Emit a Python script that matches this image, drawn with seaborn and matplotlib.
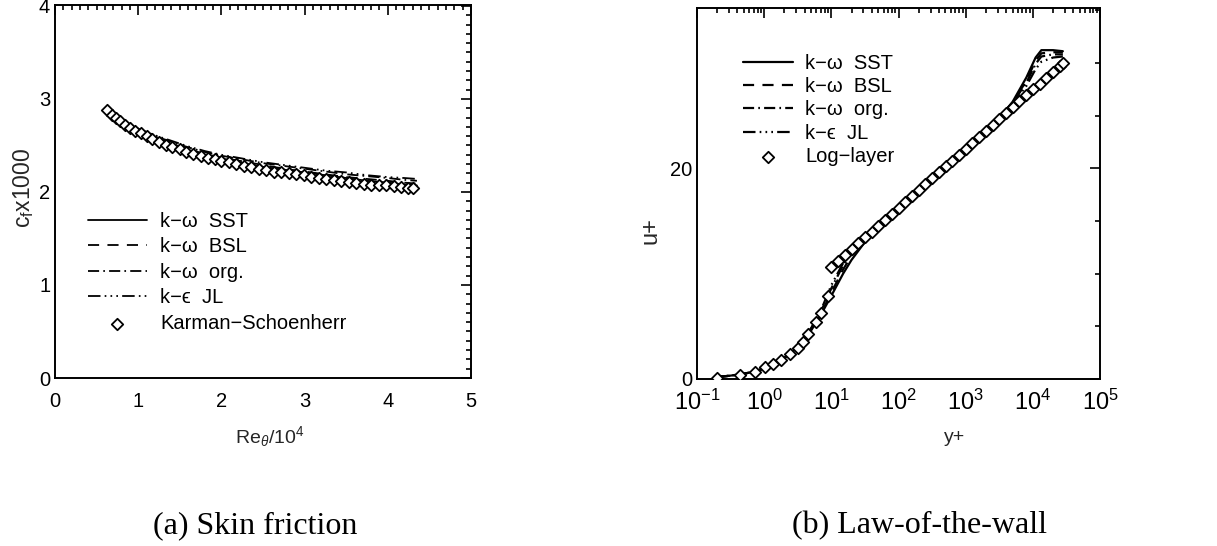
import matplotlib
matplotlib.use("Agg")
import matplotlib.pyplot as plt
import seaborn as sns
from matplotlib.ticker import MultipleLocator, LogLocator, NullFormatter

# ---------------- panel (a): skin friction ----------------
re_ks = [0.63, 0.68, 0.73, 0.78, 0.84, 0.90, 0.96, 1.03, 1.10, 1.17, 1.25, 1.33,
         1.41, 1.50, 1.58, 1.66, 1.75, 1.84, 1.92, 2.00, 2.09, 2.18, 2.27, 2.36,
         2.45, 2.54, 2.63, 2.72, 2.81, 2.90, 2.99, 3.08, 3.17, 3.26, 3.35, 3.44,
         3.53, 3.62, 3.71, 3.80, 3.89, 3.98, 4.07, 4.16, 4.24, 4.30]
cf_ks = [2.88, 2.83, 2.79, 2.76, 2.72, 2.69, 2.66, 2.63, 2.60, 2.57, 2.54, 2.51,
         2.48, 2.46, 2.43, 2.41, 2.39, 2.37, 2.35, 2.33, 2.32, 2.30, 2.28, 2.27,
         2.25, 2.24, 2.22, 2.21, 2.20, 2.19, 2.18, 2.16, 2.15, 2.14, 2.13, 2.12,
         2.11, 2.10, 2.09, 2.08, 2.08, 2.07, 2.06, 2.05, 2.04, 2.04]

re_model = [0.63, 0.70, 0.80, 0.90, 1.00, 1.20, 1.40, 1.60, 1.80, 2.00, 2.25,
            2.50, 2.75, 3.00, 3.25, 3.50, 3.75, 4.00, 4.20, 4.35]
cf_sst = [2.90, 2.83, 2.76, 2.71, 2.66, 2.58, 2.51, 2.45, 2.40, 2.36, 2.31,
          2.27, 2.24, 2.21, 2.18, 2.15, 2.12, 2.10, 2.08, 2.07]
cf_bsl = [2.91, 2.84, 2.77, 2.72, 2.67, 2.59, 2.52, 2.46, 2.41, 2.37, 2.33,
          2.29, 2.25, 2.22, 2.19, 2.16, 2.14, 2.12, 2.10, 2.09]
cf_org = [2.92, 2.85, 2.78, 2.73, 2.68, 2.60, 2.54, 2.48, 2.43, 2.39, 2.35,
          2.31, 2.28, 2.25, 2.22, 2.19, 2.17, 2.15, 2.13, 2.12]
cf_jl = [2.91, 2.85, 2.78, 2.73, 2.68, 2.61, 2.55, 2.49, 2.44, 2.40, 2.36,
         2.32, 2.29, 2.26, 2.23, 2.21, 2.18, 2.16, 2.15, 2.14]

# ---------------- panel (b): law of the wall ----------------
yp_model = [0.2, 0.3, 0.5, 0.7, 1, 1.5, 2, 3, 4, 5, 7, 10, 15, 20, 30, 50, 100,
            200, 500, 1000, 2000, 3000, 5000, 8000, 11000, 13400, 20000, 28000]
up_sst = [0.2, 0.3, 0.5, 0.7, 1.0, 1.5, 2.0, 2.9, 3.8, 4.6, 6.1, 7.9, 10.0, 11.3,
          12.8, 14.3, 16.1, 17.8, 20.0, 21.8, 23.5, 24.6, 26.3, 28.6, 30.5, 31.2,
          31.2, 31.1]
up_bsl = [0.2, 0.3, 0.5, 0.7, 1.0, 1.5, 2.0, 2.9, 3.8, 4.7, 6.2, 8.2, 10.4, 11.7,
          13.0, 14.4, 16.2, 17.9, 20.0, 21.8, 23.5, 24.6, 26.2, 28.3, 30.2, 30.9,
          31.0, 31.0]
up_org = [0.2, 0.3, 0.5, 0.7, 1.0, 1.5, 2.0, 2.9, 3.9, 4.8, 6.4, 8.6, 10.8, 12.0,
          13.2, 14.5, 16.2, 17.9, 20.1, 21.9, 23.6, 24.7, 26.2, 28.1, 29.9, 30.6,
          30.8, 30.8]
up_jl = [0.2, 0.3, 0.5, 0.7, 1.0, 1.5, 2.0, 3.0, 3.9, 4.8, 6.5, 8.9, 11.0, 12.2,
         13.2, 14.5, 16.2, 17.9, 20.1, 21.9, 23.6, 24.7, 26.1, 27.8, 29.4, 30.1,
         30.5, 30.6]

yp_exp = [0.2, 0.44, 0.73, 1.03, 1.37, 1.8, 2.4, 3.2, 3.8, 4.5, 6.0, 7.1, 8.9,
          10.0, 12.6, 15.8, 20.0, 25.1, 31.6, 39.8, 50.1, 63.1, 79.4, 100, 126,
          158, 200, 251, 316, 398, 501, 631, 794, 1000, 1259, 1585, 1995, 2512,
          3162, 3981, 5012, 6310, 7943, 10000, 12589, 15849, 19953, 25119, 28184]
up_exp = [0.1, 0.4, 0.7, 1.1, 1.4, 1.8, 2.4, 2.9, 3.5, 4.3, 5.4, 6.3, 7.9,
          10.62, 11.18, 11.74, 12.30, 12.87, 13.43, 13.99, 14.55, 15.11, 15.67,
          16.24, 16.80, 17.36, 17.92, 18.48, 19.05, 19.61, 20.17, 20.73, 21.29,
          21.85, 22.42, 22.98, 23.54, 24.10, 24.66, 25.22, 25.79, 26.35, 26.91,
          27.47, 28.03, 28.60, 29.16, 29.72, 30.00]

model_labels = ["k\u2212\u03c9  SST", "k\u2212\u03c9  BSL", "k\u2212\u03c9  org.",
                "k\u2212\u03f5  JL"]

# ---------------- styling ----------------
sns.set_style("white")
plt.rcParams.update({
    "font.family": ["Liberation Sans", "DejaVu Sans"],
    "mathtext.fontset": "custom",
    "mathtext.rm": "Liberation Sans",
    "mathtext.it": "Liberation Sans:italic",
    "mathtext.bf": "Liberation Sans:bold",
    "mathtext.sf": "Liberation Sans",
    "lines.scale_dashes": False,
    "axes.linewidth": 1.4,
    "axes.edgecolor": "black",
    "text.color": "black",
})
line_styles = ["-", (0, (8, 6)), (0, (8, 3, 1.2, 3)),
               (0, (9, 3, 1.2, 3, 1.2, 3, 1.2, 3))]

fig = plt.figure(figsize=(12.17, 5.46), dpi=100)
ax1 = fig.add_axes([55 / 1217, 1 - 378 / 546, 416 / 1217, 373 / 546])
ax2 = fig.add_axes([697 / 1217, 1 - 379 / 546, 403 / 1217, 371 / 546])

TICK_FS = 14.5
LEG_FS = 14.5

def style_ticks(ax):
    ax.tick_params(which="both", direction="in", top=True, right=True,
                   colors="black", labelsize=TICK_FS, width=1.2)
    ax.tick_params(which="major", length=7)
    ax.tick_params(which="minor", length=3.5)

# panel (a)
for cf, lab, ls in zip([cf_sst, cf_bsl, cf_org, cf_jl], model_labels, line_styles):
    sns.lineplot(x=re_model, y=cf, ax=ax1, color="black", lw=1.3, linestyle=ls,
                 label=lab, sort=False, errorbar=None, legend=False)
sns.scatterplot(x=re_ks, y=cf_ks, ax=ax1, marker="D", s=34, color="white",
                edgecolor="black", linewidth=1.3, label="Karman\u2212Schoenherr",
                zorder=3, legend=False)
ax1.set_xlim(0, 5)
ax1.set_ylim(0, 4.01)
ax1.xaxis.set_major_locator(MultipleLocator(1))
ax1.xaxis.set_minor_locator(MultipleLocator(0.1))
ax1.yaxis.set_major_locator(MultipleLocator(1))
ax1.yaxis.set_minor_locator(MultipleLocator(0.1))
style_ticks(ax1)
ax1.tick_params(axis="x", which="major", pad=10)
ax1.set_xlabel(r"Re$_\theta$/10$^4$", fontsize=14)
ax1.set_ylabel(r"c$_\mathrm{f}$x1000", fontsize=16.5)
ax1.xaxis.set_label_coords(0.517, -0.123)
ax1.yaxis.set_label_coords(-0.045, 0.51)
h, l = ax1.get_legend_handles_labels()
ax1.legend(h, l, loc="upper left", bbox_to_anchor=(0.0793, 0.445), frameon=False,
           fontsize=LEG_FS, borderpad=0, borderaxespad=0, handlelength=2.93,
           handletextpad=0.65, labelspacing=0.32, scatterpoints=1)

# panel (b)
for up, lab, ls in zip([up_sst, up_bsl, up_org, up_jl], model_labels, line_styles):
    sns.lineplot(x=yp_model, y=up, ax=ax2, color="black", lw=1.6, linestyle=ls,
                 label=lab, sort=False, errorbar=None, legend=False)
sns.scatterplot(x=yp_exp, y=up_exp, ax=ax2, marker="D", s=34, color="white",
                edgecolor="black", linewidth=1.3, label="Log\u2212layer",
                zorder=3, legend=False)
ax2.set_xscale("log")
ax2.set_xlim(0.1, 1e5)
ax2.set_ylim(0, 35.2)
ax2.xaxis.set_major_locator(LogLocator(base=10, numticks=20))
ax2.xaxis.set_minor_locator(LogLocator(base=10, subs=range(2, 10), numticks=100))
ax2.xaxis.set_minor_formatter(NullFormatter())
ax2.yaxis.set_major_locator(MultipleLocator(20))
ax2.yaxis.set_minor_locator(MultipleLocator(5))
style_ticks(ax2)
ax2.tick_params(axis="x", which="major", pad=8, labelsize=17)
ax2.set_xlabel("y+", fontsize=14)
ax2.set_ylabel("u+", fontsize=17)
ax2.xaxis.set_label_coords(0.64, -0.136)
ax2.yaxis.set_label_coords(-0.087, 0.40)
h, l = ax2.get_legend_handles_labels()
ax2.legend(h, l, loc="upper left", bbox_to_anchor=(0.114, 0.876), frameon=False,
           fontsize=LEG_FS, borderpad=0, borderaxespad=0, handlelength=2.49,
           handletextpad=0.6, labelspacing=0.21, scatterpoints=1)

for ax in (ax1, ax2):
    for sp in ax.spines.values():
        sp.set_visible(True)
        sp.set_color("black")
        sp.set_linewidth(1.4)

fig.text(255 / 1217, 1 - 526 / 546, "(a) Skin friction", ha="center", va="center",
         fontsize=23, family="Liberation Serif")
fig.text(920 / 1217, 1 - 526 / 546, "(b) Law-of-the-wall", ha="center", va="center",
         fontsize=23, family="Liberation Serif")

fig.savefig("out.png", dpi=100, facecolor="white")
